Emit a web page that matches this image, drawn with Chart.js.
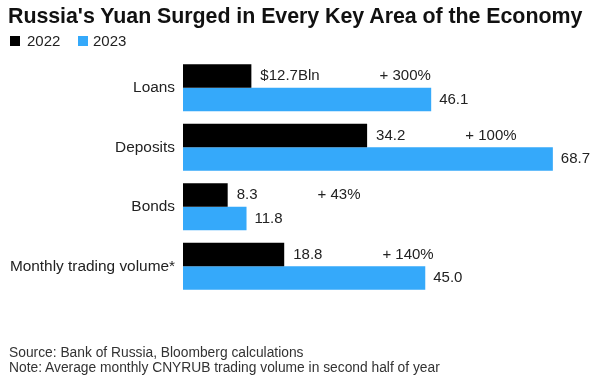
<!DOCTYPE html>
<html>
<head>
<meta charset="utf-8">
<script src="https://cdn.jsdelivr.net/npm/chart.js@4/dist/chart.umd.min.js"></script>
<style>
  html, body { margin: 0; padding: 0; background: #fff; }
  #wrap { position: relative; width: 600px; height: 382px; overflow: hidden; font-family: "Liberation Sans", Arial, sans-serif; }
  #c { position: absolute; left: 0; top: 0; }
  .title { position: absolute; left: 8px; top: 4px; font-size: 21.4px; font-weight: bold; color: #111; white-space: nowrap; line-height: 24px; letter-spacing: -0.05px; }
  .leg { position: absolute; top: 33px; font-size: 15px; color: #222; line-height: 16px; white-space: nowrap; }
  .sw { position: absolute; top: 36px; width: 10px; height: 10px; }
  .foot { position: absolute; left: 9px; font-size: 13.8px; color: #333; line-height: 15px; white-space: nowrap; }
</style>
</head>
<body>
<div id="wrap">
  <canvas id="c" width="600" height="382"></canvas>
  <div class="title">Russia's Yuan Surged in Every Key Area of the Economy</div>
  <div class="sw" style="left:10px;background:#000;"></div>
  <div class="leg" style="left:27px;">2022</div>
  <div class="sw" style="left:78px;background:#35a9fa;"></div>
  <div class="leg" style="left:93px;">2023</div>
  <div class="foot" style="top:345px;">Source: Bank of Russia, Bloomberg calculations</div>
  <div class="foot" style="top:360px;">Note: Average monthly CNYRUB trading volume in second half of year</div>
</div>
<script>
const categories = ["Loans", "Deposits", "Bonds", "Monthly trading volume*"];
const values2022 = [12.7, 34.2, 8.3, 18.8];
const values2023 = [46.1, 68.7, 11.8, 45.0];
const changeLabels = ["+ 300%", "+ 100%", "+ 43%", "+ 140%"];
const seriesNames = ["2022", "2023"];

const FONT = '"Liberation Sans", Arial, sans-serif';

const labelPlugin = {
  id: 'barLabels',
  afterDatasetsDraw(chart) {
    const ctx = chart.ctx;
    ctx.save();
    ctx.font = '15px ' + FONT;
    ctx.fillStyle = '#222';
    ctx.textBaseline = 'middle';
    ctx.textAlign = 'left';
    const m0 = chart.getDatasetMeta(0).data;
    const m1 = chart.getDatasetMeta(1).data;
    m0.forEach((bar, i) => {
      const v = values2022[i];
      const txt = i === 0 ? ('$' + v + 'Bln') : v.toFixed(1);
      const x = bar.x + 9;
      ctx.fillText(txt, x, bar.y);
      const w = ctx.measureText(txt).width;
      ctx.fillText(changeLabels[i], x + w + 60, bar.y);
    });
    m1.forEach((bar, i) => {
      ctx.fillText(values2023[i].toFixed(1), bar.x + 8, bar.y);
    });
    ctx.restore();
  }
};

new Chart(document.getElementById('c'), {
  type: 'bar',
  data: {
    labels: categories,
    datasets: [
      { label: seriesNames[0], data: values2022, backgroundColor: '#000000', categoryPercentage: 0.79, barPercentage: 1.0 },
      { label: seriesNames[1], data: values2023, backgroundColor: '#35a9fa', categoryPercentage: 0.79, barPercentage: 1.0 }
    ]
  },
  options: {
    indexAxis: 'y',
    responsive: false,
    animation: false,
    devicePixelRatio: 1,
    layout: { padding: { left: 0, right: 10, top: 58, bottom: 86 } },
    plugins: { legend: { display: false }, tooltip: { enabled: false }, title: { display: false } },
    scales: {
      x: { display: false, min: 0, max: 75.6 },
      y: {
        afterFit(scale) { scale.width = 183; },
        grid: { display: false, drawTicks: false },
        border: { display: false },
        ticks: { color: '#222', padding: 8, font: { size: 15.4, family: FONT } }
      }
    }
  },
  plugins: [labelPlugin]
});
</script>
</body>
</html>
